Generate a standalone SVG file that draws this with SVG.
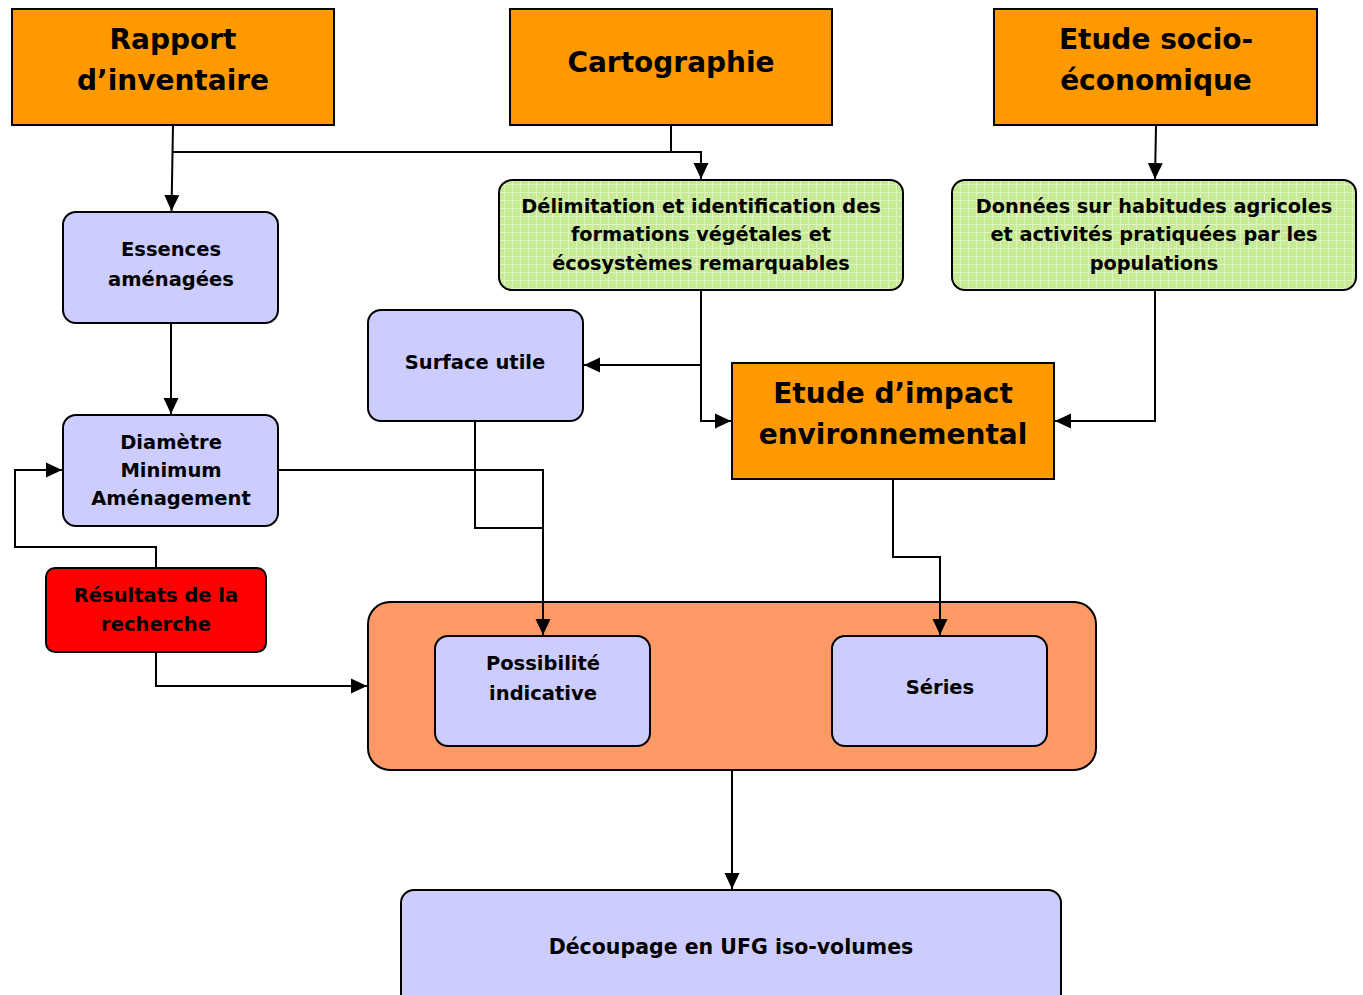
<svg xmlns="http://www.w3.org/2000/svg" width="1363" height="995" viewBox="0 0 1363 995">
<style>
text{font-family:"DejaVu Sans","Liberation Sans",sans-serif;font-weight:bold;fill:#000;text-anchor:middle}
.big{font-size:28px}
.mid{font-size:19.5px}
.sm{font-size:19.3px}
.or{fill:#ff9900;stroke:#000;stroke-width:2}
.bl{fill:#ccccff;stroke:#000;stroke-width:2}
.gr{fill:url(#grid);stroke:#000;stroke-width:2}
.rd{fill:#ff0000;stroke:#000;stroke-width:2}
.ct{fill:#ff9966;stroke:#000;stroke-width:2}
.c{fill:none;stroke:#000;stroke-width:2}
</style>
<defs>
<pattern id="grid" width="8" height="8" patternUnits="userSpaceOnUse">
<rect width="8" height="8" fill="#c6eb94"/>
<path d="M0 0.5H8M0.5 0V8" stroke="#dff5bf" stroke-width="1"/>
</pattern>
<marker id="ah" markerWidth="16" markerHeight="16" refX="16" refY="8" orient="auto" markerUnits="userSpaceOnUse" viewBox="0 0 16 16">
<path d="M0 0.5L16 8L0 15.5Z" fill="#000"/>
</marker>
</defs>
<rect width="1363" height="995" fill="#fff"/>
<g id="rapport"><rect class="or" x="12" y="9" width="322" height="116"/><text class="big" x="173" y="49">Rapport</text><text class="big" x="173" y="90">d’inventaire</text></g>
<g id="cartographie"><rect class="or" x="510" y="9" width="322" height="116"/><text class="big" x="671" y="72">Cartographie</text></g>
<g id="socio"><rect class="or" x="994" y="9" width="323" height="116"/><text class="big" x="1156" y="49">Etude socio-</text><text class="big" x="1156" y="90">économique</text></g>
<g id="delimitation"><rect class="gr" x="499" y="180" width="404" height="110" rx="13"/><text class="sm" x="701" y="213">Délimitation et identification des</text><text class="sm" x="701" y="241">formations végétales et</text><text class="sm" x="701" y="270">écosystèmes remarquables</text></g>
<g id="donnees"><rect class="gr" x="952" y="180" width="404" height="110" rx="13"/><text class="sm" x="1154" y="213">Données sur habitudes agricoles</text><text class="sm" x="1154" y="241">et activités pratiquées par les</text><text class="sm" x="1154" y="270">populations</text></g>
<g id="essences"><rect class="bl" x="63" y="212" width="215" height="111" rx="13"/><text class="mid" x="171" y="256">Essences</text><text class="mid" x="171" y="286">aménagées</text></g>
<g id="surface"><rect class="bl" x="368" y="310" width="215" height="111" rx="13"/><text class="mid" x="475" y="369">Surface utile</text></g>
<g id="impact"><rect class="or" x="732" y="363" width="322" height="116"/><text class="big" x="893" y="403">Etude d’impact</text><text class="big" x="893" y="444">environnemental</text></g>
<g id="diametre"><rect class="bl" x="63" y="415" width="215" height="111" rx="13"/><text class="mid" x="171" y="449">Diamètre</text><text class="mid" x="171" y="477">Minimum</text><text class="mid" x="171" y="505">Aménagement</text></g>
<g id="resultats"><rect class="rd" x="46" y="568" width="220" height="84" rx="9"/><text class="mid" x="156" y="602">Résultats de la</text><text class="mid" x="156" y="631">recherche</text></g>
<g id="container"><rect class="ct" x="368" y="602" width="728" height="168" rx="22"/></g>
<g id="possibilite"><rect class="bl" x="435" y="636" width="215" height="110" rx="13"/><text class="mid" x="543" y="670">Possibilité</text><text class="mid" x="543" y="700">indicative</text></g>
<g id="series"><rect class="bl" x="832" y="636" width="215" height="110" rx="13"/><text class="mid" x="940" y="694">Séries</text></g>
<g id="decoupage"><rect class="bl" x="401" y="890" width="660" height="120" rx="13"/><text class="mid" x="731" y="954" style="font-size:20.5px">Découpage en UFG iso-volumes</text></g>
<g id="connectors">
<path class="c" d="M173 125L171.5 211" marker-end="url(#ah)"/>
<path class="c" d="M671 125V152"/>
<path class="c" d="M173 152H701V179" marker-end="url(#ah)"/>
<path class="c" d="M1156 126L1155 179" marker-end="url(#ah)"/>
<path class="c" d="M701 291V421H731" marker-end="url(#ah)"/>
<path class="c" d="M701 365H584" marker-end="url(#ah)"/>
<path class="c" d="M1155 291V421H1055" marker-end="url(#ah)"/>
<path class="c" d="M171 324V414" marker-end="url(#ah)"/>
<path class="c" d="M279 470H543V635" marker-end="url(#ah)"/>
<path class="c" d="M475 422V528H543"/>
<path class="c" d="M156 567V547H15V470H62" marker-end="url(#ah)"/>
<path class="c" d="M156 653V686H367" marker-end="url(#ah)"/>
<path class="c" d="M893 480V557H940V635" marker-end="url(#ah)"/>
<path class="c" d="M732 771V889" marker-end="url(#ah)"/>
</g>
</svg>
